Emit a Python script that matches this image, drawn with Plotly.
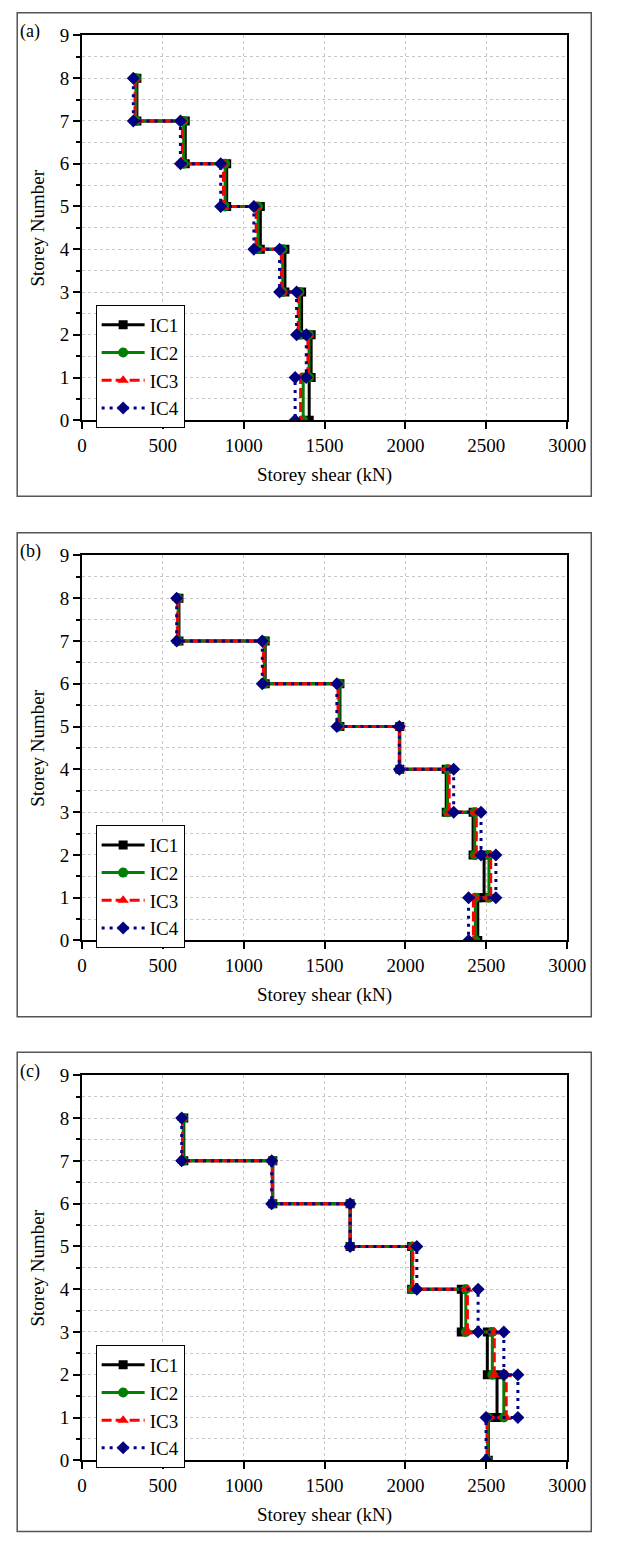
import plotly.graph_objects as go

W, H = 617, 1544
FONT = "Liberation Serif"

# ---------------- data ----------------
storeys = [8, 7, 6, 5, 4, 3, 2, 1]
series_names = ["IC1", "IC2", "IC3", "IC4"]

a_IC1 = [340, 639, 895, 1103, 1255, 1358, 1417, 1405]
a_IC2 = [334, 629, 885, 1089, 1241, 1344, 1404, 1368]
a_IC3 = [328, 621, 875, 1077, 1233, 1337, 1397, 1352]
a_IC4 = [318, 609, 858, 1063, 1222, 1327, 1387, 1318]

b_IC1 = [600, 1133, 1595, 1965, 2252, 2418, 2486, 2447]
b_IC2 = [595, 1128, 1590, 1963, 2260, 2428, 2516, 2432]
b_IC3 = [590, 1122, 1583, 1962, 2270, 2438, 2527, 2420]
b_IC4 = [586, 1115, 1576, 1962, 2298, 2467, 2559, 2390]

c_IC1 = [630, 1180, 1658, 2038, 2345, 2506, 2566, 2512]
c_IC2 = [626, 1178, 1658, 2042, 2373, 2537, 2608, 2508]
c_IC3 = [622, 1176, 1658, 2046, 2383, 2549, 2623, 2504]
c_IC4 = [617, 1173, 1658, 2070, 2449, 2608, 2695, 2498]

panel_labels = ["(a)", "(b)", "(c)"]
panel_data = [
    [a_IC1, a_IC2, a_IC3, a_IC4],
    [b_IC1, b_IC2, b_IC3, b_IC4],
    [c_IC1, c_IC2, c_IC3, c_IC4],
]
x_range = [0, 3000]
x_step = 500
y_range = [0, 9]
y_step = 1

# ---------------- style ----------------
colors = ["#000000", "#008000", "#ff0000", "#000080"]
symbols = ["square", "circle", "triangle-up", "diamond"]
msizes = [9, 10, 10, 10]
dashes = ["solid", "solid", "10px,4px", "3px,5px"]

plot_left, plot_right = 80, 585
plot_tops = [25.7, 553, 1080]
plot_h = 390.3
frame_tops = [2.7, 530, 1056.7]
frame_bottoms = [493, 1020.7, 1542.5]
frame_left, frame_right = 12.7, 610


def px_x(p):
    return p / W


def px_y(p):
    return 1 - p / H


fig = go.Figure()
shapes = []
annotations = []
legend_names = ["legend", "legend2", "legend3"]

for i, (lab, data) in enumerate(zip(panel_labels, panel_data)):
    n = "" if i == 0 else str(i + 1)
    xa, ya = "x" + n, "y" + n
    for j, vals in enumerate(data):
        xs, ys = [], []
        for k, v in zip(storeys, vals):
            xs += [v, v]
            ys += [k, k - 1]
        fig.add_trace(go.Scatter(
            x=xs, y=ys, mode="lines+markers", name=series_names[j],
            xaxis=xa, yaxis=ya, legend=legend_names[i],
            line=dict(color=colors[j], width=3, dash=dashes[j]),
            marker=dict(symbol=symbols[j], size=msizes[j], color=colors[j]),
        ))
    top = plot_tops[i]
    bot = top + plot_h
    axis_common = dict(
        showline=True, linecolor="black", linewidth=1.5, mirror=True,
        ticks="outside", ticklen=7, tickwidth=1.5, tickcolor="black",
        showgrid=True, gridcolor="#c8c8c8", griddash="dot", gridwidth=1,
        zeroline=False, tickfont=dict(family=FONT, size=19, color="black"),
    )
    fig.update_layout({
        "xaxis" + n: dict(domain=[px_x(plot_left), px_x(plot_right)], anchor=ya,
                          range=x_range, tickmode="linear", tick0=0, dtick=x_step,
                          **axis_common),
        "yaxis" + n: dict(domain=[px_y(bot), px_y(top)], anchor=xa,
                          range=y_range, tickmode="linear", tick0=0, dtick=y_step,
                          minor=dict(dtick=y_step / 2, tick0=0, ticks="outside", ticklen=4,
                                     tickwidth=1.5, tickcolor="black", showgrid=True,
                                     gridcolor="#c8c8c8", griddash="dot", gridwidth=1),
                          **axis_common),
    })
    # legend
    lg_left, lg_top = 94.3, top + 273.3
    fig.update_layout({legend_names[i]: dict(
        x=px_x(lg_left), y=px_y(lg_top), xanchor="left", yanchor="top",
        bgcolor="white", bordercolor="black", borderwidth=1,
        font=dict(family=FONT, size=19, color="black"),
        itemwidth=43, tracegroupgap=0,
    )})
    # legend shadow
    shapes.append(dict(type="rect", xref="paper", yref="paper",
                       x0=px_x(lg_left + 6), x1=px_x(lg_left + 92.4),
                       y0=px_y(lg_top + 108.7), y1=px_y(lg_top + 6),
                       fillcolor="black", line=dict(width=0), layer="above"))
    # outer frame
    shapes.append(dict(type="rect", xref="paper", yref="paper",
                       x0=px_x(frame_left), x1=px_x(frame_right),
                       y0=px_y(frame_bottoms[i]), y1=px_y(frame_tops[i]),
                       line=dict(color="#555555", width=1.5), fillcolor="rgba(0,0,0,0)"))
    # panel label
    annotations.append(dict(text=lab, xref="paper", yref="paper",
                            x=px_x(14), y=px_y(frame_tops[i] + 19), xanchor="left",
                            yanchor="middle", showarrow=False,
                            font=dict(family=FONT, size=18, color="black")))
    # axis titles
    annotations.append(dict(text="Storey shear (kN)", xref="paper", yref="paper",
                            x=px_x((plot_left + plot_right) / 2), y=px_y(bot + 55),
                            xanchor="center", yanchor="middle", showarrow=False,
                            font=dict(family=FONT, size=19, color="black")))
    annotations.append(dict(text="Storey Number", xref="paper", yref="paper",
                            x=px_x(34), y=px_y((top + bot) / 2), textangle=-90,
                            xanchor="center", yanchor="middle", showarrow=False,
                            font=dict(family=FONT, size=19, color="black")))

fig.update_layout(
    width=W, height=H, margin=dict(l=0, r=0, t=0, b=0),
    paper_bgcolor="white", plot_bgcolor="white",
    shapes=shapes, annotations=annotations,
    font=dict(family=FONT, color="black"),
)
fig.write_html("out.html")
